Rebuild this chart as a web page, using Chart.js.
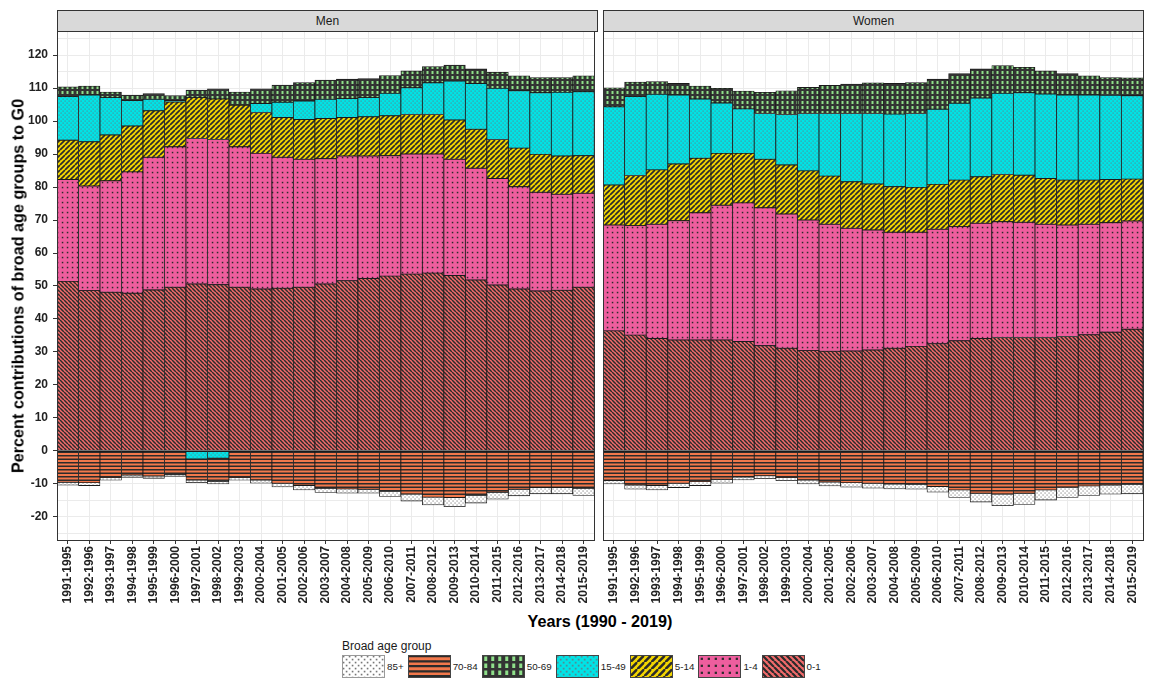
<!DOCTYPE html>
<html>
<head>
<meta charset="utf-8">
<script src="https://cdn.jsdelivr.net/npm/chart.js@4.4.1/dist/chart.umd.min.js"></script>
<style>
  body { margin: 0; background: #fff; font-family: "Liberation Sans", Arial, sans-serif; }
  #wrap { position: relative; width: 1154px; height: 687px; overflow: hidden; }
  canvas { position: absolute; top: 0; }
  .strip { position: absolute; top: 10px; height: 22px; box-sizing: border-box; background: #D9D9D9;
           border: 1px solid #333; font-size: 12px; color: #1a1a1a; text-align: center; line-height: 20px; }
  #ytitle { position: absolute; left: 18px; top: 286px; transform: translate(-50%, -50%) rotate(-90deg);
            white-space: nowrap; font-weight: bold; font-size: 16.2px; color: #000; }
  #xtitle { position: absolute; left: 600px; top: 621px; transform: translate(-50%, -50%);
            white-space: nowrap; font-weight: bold; font-size: 16.2px; color: #000; }
  #legend { position: absolute; left: 342px; top: 639px; font-size: 9.8px; color: #1a1a1a; }
  #legend .ttl { font-size: 12px; margin-bottom: 2px; line-height: 14px; }
  #legend .row { display: flex; align-items: center; }
  #legend .item { display: flex; align-items: center; margin-right: 4px; }
  #legend canvas { position: static; display: block; margin-right: 2px; }
</style>
</head>
<body>
<div id="wrap">
  <canvas id="men" width="600" height="610" style="left:0"></canvas>
  <canvas id="women" width="554" height="610" style="left:600px"></canvas>
  <div class="strip" style="left:57px;width:541px">Men</div>
  <div class="strip" style="left:603px;width:541px">Women</div>
  <div id="ytitle">Percent contributions of broad age groups to G0</div>
  <div id="xtitle">Years (1990 - 2019)</div>
  <div id="legend">
    <div class="ttl">Broad age group</div>
    <div class="row" id="legrow"></div>
  </div>
</div>
<script>
const years = ["1991-1995","1992-1996","1993-1997","1994-1998","1995-1999","1996-2000","1997-2001",
  "1998-2002","1999-2003","2000-2004","2001-2005","2002-2006","2003-2007","2004-2008","2005-2009",
  "2006-2010","2007-2011","2008-2012","2009-2013","2010-2014","2011-2015","2012-2016","2013-2017",
  "2014-2018","2015-2019"];

const ageGroups = ["0-1","1-4","5-14","15-49","50-69","70-84","85+"];
const legendOrder = ["85+","70-84","50-69","15-49","5-14","1-4","0-1"];

// Men
const men0_1   = [51.4,48.6,48.1,47.8,48.8,49.6,50.6,50.4,49.6,49.1,49.3,49.6,50.6,51.6,52.3,53.0,53.6,53.9,53.2,51.8,50.3,49.1,48.5,48.7,49.6];
const men1_4   = [30.9,31.7,33.8,36.8,40.2,42.6,44.1,44.0,42.6,41.1,39.7,38.8,38.0,37.8,37.1,36.5,36.4,36.1,35.2,33.9,32.3,31.0,29.9,29.1,28.5];
const men5_14  = [11.9,13.4,13.9,13.9,14.1,13.6,12.4,12.3,12.6,12.4,12.1,12.1,12.2,11.7,11.9,12.1,12.0,12.0,11.9,11.8,11.8,11.7,11.5,11.6,11.4];
const men15_49 = [13.2,14.2,11.3,7.7,3.5,0.4,-2.4,-2.2,0,2.7,4.6,5.6,5.8,5.7,5.8,6.8,8.1,9.6,11.8,13.9,15.5,17.4,18.7,19.3,19.4];
const men50_69 = [3.0,2.7,1.7,1.7,1.7,1.5,2.3,3.1,4.0,4.5,5.2,5.6,5.8,5.9,5.8,5.4,5.1,4.9,4.9,4.4,4.9,4.5,4.6,4.5,4.8];
const men70_84 = [-9.5,-9.6,-8.1,-7.3,-7.6,-7.1,-6.4,-7.0,-8.1,-8.8,-9.8,-10.5,-11.3,-11.5,-11.6,-12.3,-13.1,-14.0,-14.1,-13.5,-12.5,-11.6,-11.1,-11.1,-11.3];
const men85    = [-0.9,-0.9,-0.8,-0.7,-0.7,-0.6,-0.8,-0.8,-0.8,-1.0,-1.1,-1.3,-1.3,-1.3,-1.2,-1.5,-2.1,-2.4,-2.8,-2.3,-2.1,-2.0,-1.9,-1.9,-2.2];

// Women
const women0_1   = [36.4,35.1,34.1,33.6,33.6,33.6,33.2,31.9,31.1,30.4,30.2,30.3,30.6,31.1,31.7,32.5,33.4,34.1,34.4,34.4,34.4,34.7,35.2,36.0,36.9];
const women1_4   = [32.1,33.2,34.6,36.2,38.6,40.9,42.0,41.8,40.7,39.6,38.5,37.2,36.4,35.2,34.6,34.7,34.6,34.9,35.1,34.9,34.3,33.8,33.5,33.2,32.8];
const women5_14  = [12.1,15.2,16.5,17.2,16.5,15.7,15.0,14.7,14.9,14.9,14.6,14.1,13.9,13.8,13.6,13.6,14.1,14.1,14.3,14.3,13.9,13.6,13.4,13.1,12.7];
const women15_49 = [23.7,23.9,22.9,20.9,18.0,15.3,13.5,13.9,15.3,17.4,19.0,20.7,21.4,22.0,22.4,22.8,23.3,23.9,24.6,25.0,25.6,25.8,25.8,25.5,25.3];
const women50_69 = [5.8,4.4,3.9,3.5,3.9,4.4,5.4,6.4,7.2,7.9,8.5,8.9,9.3,9.3,9.4,9.1,9.0,8.8,8.4,7.7,7.0,6.5,5.8,5.4,5.4];
const women70_84 = [-9.0,-10.3,-10.5,-9.8,-9.3,-8.6,-7.9,-7.5,-8.1,-8.8,-9.4,-9.6,-9.8,-10.0,-10.1,-10.8,-11.8,-12.8,-13.1,-12.8,-11.8,-11.0,-10.6,-10.3,-10.1];
const women85    = [-1.0,-1.3,-1.3,-1.3,-1.2,-1.2,-0.9,-0.9,-0.9,-1.2,-1.2,-1.4,-1.5,-1.5,-1.5,-1.7,-2.3,-2.7,-3.5,-3.4,-3.1,-3.1,-2.9,-2.8,-2.9];

const menData   = [men0_1, men1_4, men5_14, men15_49, men50_69, men70_84, men85];
const womenData = [women0_1, women1_4, women5_14, women15_49, women50_69, women70_84, women85];

// pattern tiles, k = scale factor (1 for bars, bigger for legend keys)
function makePattern(group, k) {
  const c = document.createElement("canvas");
  const g = c.getContext("2d");
  const dark = "#2b2b2b";
  function tile(w, h, bg) {
    c.width = w; c.height = h;
    g.fillStyle = bg; g.fillRect(0, 0, w, h);
  }
  function diag(s, lw, dir) {
    g.strokeStyle = dark; g.lineWidth = lw; g.beginPath();
    for (let i = -1; i <= 2; i++) {
      if (dir > 0) { g.moveTo(i * s - s, s); g.lineTo(i * s, 0); }
      else { g.moveTo(i * s - s, 0); g.lineTo(i * s, s); }
    }
    g.stroke();
  }
  if (group === "0-1") { const s = 4 * k; tile(s, s, "#F26B6B"); diag(s, 1.5 * k, -1); }
  else if (group === "5-14") { const s = 5 * k; tile(s, s, "#F2D500"); diag(s, 1.7 * k, 1); }
  else if (group === "1-4") {
    const s = 5 * k; tile(s, s, "#EE5E9E");
    g.fillStyle = dark; g.fillRect(1.8 * k, 1.8 * k, 1.5 * k, 1.5 * k);
  }
  else if (group === "15-49") {
    const s = 4 * k; tile(s, s, "#00E3E6");
    g.fillStyle = "#4f8f96"; g.fillRect(0.5 * k, 0.5 * k, 1.2 * k, 1.2 * k);
    g.fillRect(2.5 * k, 2.5 * k, 1.2 * k, 1.2 * k);
  }
  else if (group === "50-69") {
    const s = 5 * k; tile(s, s, "#333333");
    g.fillStyle = "#8FE08A"; g.fillRect(1.5 * k, 1 * k, 2 * k, 3 * k);
  }
  else if (group === "70-84") {
    const h = 7 * k; tile(4, h, "#F2784B");
    g.fillStyle = dark; g.fillRect(0, 0, 4, 1.5 * k); g.fillRect(0, 3.5 * k, 4, 1.5 * k);
  }
  else {
    const s = 4 * k; tile(s, s, "#FFFFFF");
    g.fillStyle = "#777"; g.fillRect(0.5 * k, 0.5 * k, 1.1 * k, 1.1 * k);
    g.fillRect(2.5 * k, 2.5 * k, 1.1 * k, 1.1 * k);
  }
  return g.createPattern(c, "repeat");
}

const tickFont = { family: "'Liberation Sans', Arial, sans-serif", size: 12, weight: "bold" };

function panel(id, data, showY) {
  const ctx = document.getElementById(id).getContext("2d");
  return new Chart(ctx, {
    type: "bar",
    data: {
      labels: years,
      datasets: ageGroups.map((grp, i) => ({
        label: grp,
        data: data[i],
        backgroundColor: makePattern(grp, 1),
        borderColor: "#1a1a1a",
        borderWidth: 0.8,
        borderSkipped: false,
        barPercentage: 1,
        categoryPercentage: 1
      }))
    },
    options: {
      responsive: false,
      animation: false,
      layout: { padding: showY ? { top: 31, right: 3, left: 0, bottom: 0 } : { top: 31, right: 11, left: 3, bottom: 0 } },
      plugins: { legend: { display: false }, tooltip: { enabled: false } },
      scales: {
        x: {
          stacked: true,
          offset: true,
          border: { display: false },
          grid: { offset: false, color: "#EBEBEB", tickLength: 4, tickColor: "#333" },
          ticks: { autoSkip: false, maxRotation: 90, minRotation: 90, font: tickFont, color: "#222", padding: 2 },
          afterFit: s => { s.height = 70; }
        },
        y: {
          stacked: true,
          min: -27,
          max: 127.3,
          border: { display: false },
          afterBuildTicks: s => {
            const t = [];
            for (let v = -25; v <= 125; v += 5) t.push({ value: v });
            s.ticks = t;
          },
          grid: {
            color: "#EBEBEB",
            drawTicks: showY,
            tickLength: 4,
            tickColor: c => (c.tick && c.tick.value % 10 === 0) ? "#333" : "rgba(0,0,0,0)"
          },
          ticks: {
            display: showY,
            autoSkip: false,
            font: tickFont,
            color: "#222",
            padding: 5,
            callback: v => (v % 10 === 0) ? v : ""
          },
          afterFit: s => { s.width = showY ? 57 : 0; }
        }
      }
    },
    plugins: [{
      id: "panelBorder",
      afterDraw(chart) {
        const a = chart.chartArea, g = chart.ctx;
        g.save();
        g.strokeStyle = "#333";
        g.lineWidth = 1;
        g.strokeRect(Math.round(a.left) + 0.5, Math.round(a.top) + 0.5, Math.round(a.right - a.left), Math.round(a.bottom - a.top));
        g.restore();
      }
    }]
  });
}

panel("men", menData, true);
panel("women", womenData, false);

// legend keys
const row = document.getElementById("legrow");
legendOrder.forEach(grp => {
  const item = document.createElement("div");
  item.className = "item";
  const c = document.createElement("canvas");
  c.width = 43; c.height = 23;
  const g = c.getContext("2d");
  g.fillStyle = makePattern(grp, 1.5);
  g.fillRect(0, 0, 43, 23);
  g.strokeStyle = grp === "85+" ? "#9a9a9a" : "#444";
  g.lineWidth = 1;
  g.strokeRect(0.5, 0.5, 42, 22);
  const lab = document.createElement("span");
  lab.textContent = grp;
  item.appendChild(c);
  item.appendChild(lab);
  row.appendChild(item);
});
</script>
</body>
</html>
